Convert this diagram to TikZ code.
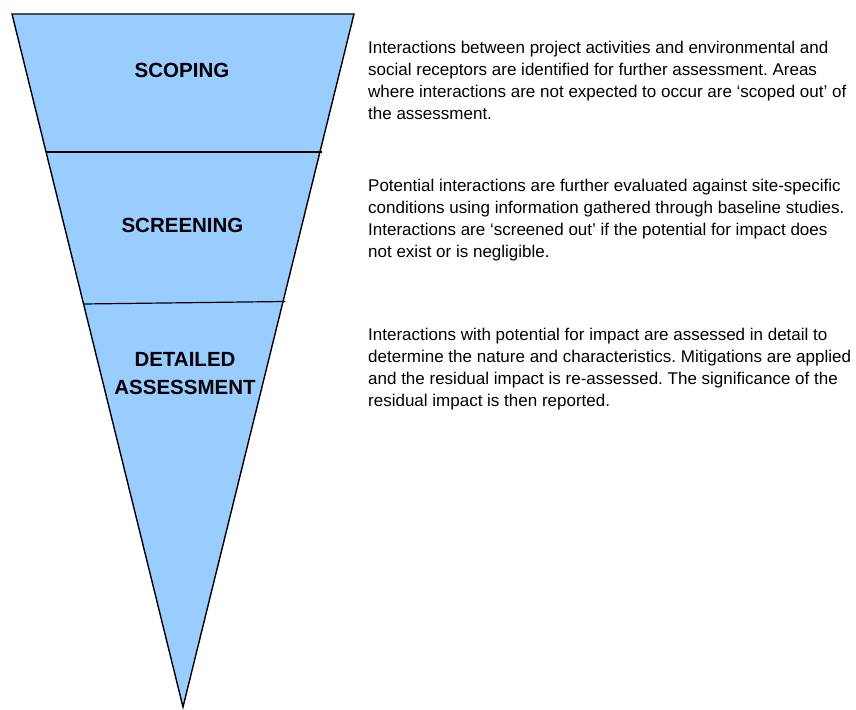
\documentclass[tikz,border=0pt]{standalone}
\usepackage{fontspec}
\setmainfont{Liberation Sans}
\frenchspacing
\definecolor{funnelblue}{RGB}{153,204,255}
\tikzset{
  stage/.style={font=\fontsize{20.5}{28}\selectfont\bfseries, align=center, inner sep=0pt, anchor=base},
  note/.style={font=\fontsize{17}{22}\selectfont, align=left, inner sep=0pt, anchor=base west}
}
\begin{document}
\begin{tikzpicture}[x=1pt,y=-1pt]
  \useasboundingbox (0,0) rectangle (856,709);
% funnel
  \coordinate (tl) at (12,14);
  \coordinate (tr) at (354,14);
  \coordinate (apex) at (183,707);
  \filldraw[fill=funnelblue,draw=black,line width=1.4pt,line join=miter] (tl) -- (tr) -- (apex) -- cycle;
% dividers
  \coordinate (d1l) at (46,152);
  \coordinate (d1r) at (322,152);
  \coordinate (d2l) at (83,304);
  \coordinate (d2r) at (285,301.5);
  \draw[line width=1.2pt] (d1l) -- (d1r);
  \draw[line width=1.2pt] (d2l) -- (d2r);
% stage labels (base = last line)
  \node[stage] (scoping) at (182,77.3) {SCOPING};
  \node[stage] (screening) at (182.5,232.7) {SCREENING};
  \node[stage] (detailed) at (185,394.3) {DETAILED\\ASSESSMENT};
% descriptions
  \node[note] (scopingtext) at (368,119) {Interactions between project activities and environmental and\\social receptors are identified for further assessment. Areas\\where interactions are not expected to occur are `scoped out' of\\the assessment.};
  \node[note] (screeningtext) at (368,257.7) {Potential interactions are further evaluated against site-specific\\conditions using information gathered through baseline studies.\\Interactions are `screened out' if the potential for impact does\\not exist or is negligible.};
  \node[note] (detailedtext) at (368,406.7) {Interactions with potential for impact are assessed in detail to\\determine the nature and characteristics. Mitigations are applied\\and the residual impact is re-assessed. The significance of the\\residual impact is then reported.};
\end{tikzpicture}
\end{document}
